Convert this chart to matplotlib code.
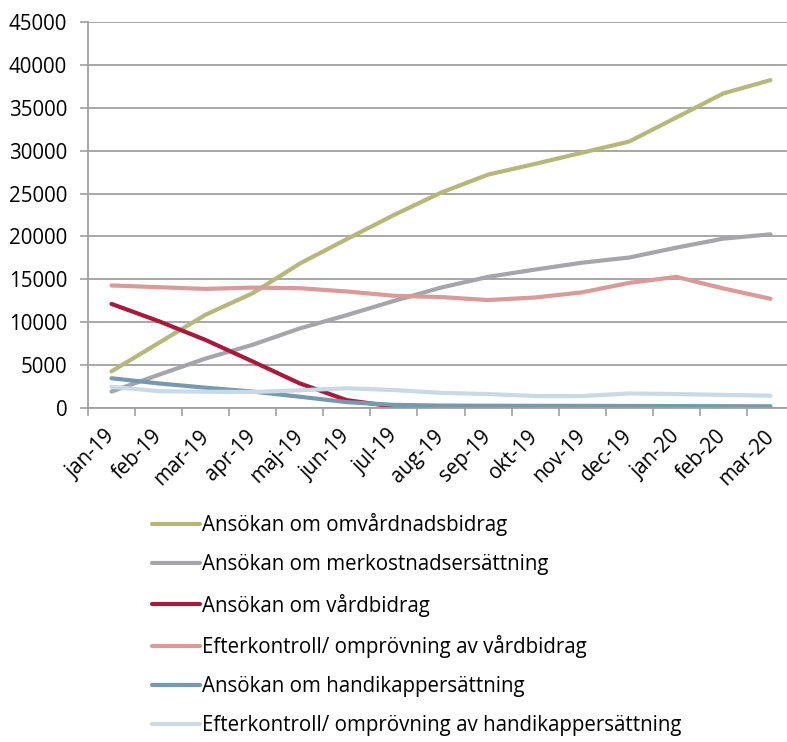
# ärenden per månad

import matplotlib.pyplot as plt

plt.rcParams['font.family'] = ['Open Sans', 'DejaVu Sans']

manader = ['jan-19', 'feb-19', 'mar-19', 'apr-19', 'maj-19', 'jun-19', 'jul-19',
           'aug-19', 'sep-19', 'okt-19', 'nov-19', 'dec-19', 'jan-20', 'feb-20', 'mar-20']

omvardnadsbidrag = [4300, 7600, 10900, 13400, 16850, 19700, 22500, 25100, 27200,
                    28450, 29750, 31050, 33850, 36650, 38200]
merkostnad = [1950, 3900, 5800, 7400, 9300, 10850, 12500, 14050, 15300, 16150,
              16950, 17550, 18700, 19750, 20250]
vardbidrag = [12150, 10150, 7950, 5450, 2900, 950, 200, 80, 60, 50, 50, 50, 50, 40, 40]
efterkontroll_vardbidrag = [14300, 14100, 13900, 14050, 13980, 13600, 13100, 12950,
                            12600, 12900, 13500, 14600, 15300, 13950, 12750]
handikapp = [3500, 2900, 2400, 1950, 1350, 720, 400, 320, 300, 290, 280, 270, 260, 250, 240]
efterkontroll_handikapp = [2500, 2000, 1930, 1900, 2100, 2330, 2130, 1800, 1660,
                           1430, 1430, 1730, 1660, 1560, 1470]

serier = [
    ('Ansökan om omvårdnadsbidrag', omvardnadsbidrag, '#B4B97A'),
    ('Ansökan om merkostnadsersättning', merkostnad, '#A5A5AA'),
    ('Ansökan om vårdbidrag', vardbidrag, '#A8193C'),
    ('Efterkontroll/ omprövning av vårdbidrag', efterkontroll_vardbidrag, '#D99A99'),
    ('Ansökan om handikappersättning', handikapp, '#7699B0'),
    ('Efterkontroll/ omprövning av handikappersättning', efterkontroll_handikapp, '#C9D9E5'),
]

fig = plt.figure(figsize=(7.87, 7.42), dpi=100)
ax = fig.add_axes([88 / 787, 0.4497, 706 / 787, 0.5211])

x = list(range(len(manader)))
for namn, varden, farg in serier:
    ax.plot(x, varden, color=farg, linewidth=3, solid_joinstyle='round',
            solid_capstyle='round', label=namn)

ax.set_xlim(-0.5, len(manader) - 0.5)
ax.set_ylim(0, 45000)
ax.set_yticks(range(0, 45001, 5000))
ax.yaxis.grid(True, color='#A0A0A0', linewidth=1.3)
ax.set_axisbelow(True)

ax.set_xticks(x)
ax.set_xticklabels(manader, rotation=45, ha='right', va='center',
                   rotation_mode='anchor', fontsize=14.8)
ax.set_xticks([i - 0.5 for i in range(len(manader) + 1)], minor=True)
ax.tick_params(axis='x', which='major', length=0, pad=18)
ax.tick_params(axis='x', which='minor', length=6, color='#A0A0A0', width=1.2)
ax.tick_params(axis='y', length=6, color='#A0A0A0', width=1.2, labelsize=14.8, pad=9)

for s in ['top', 'right']:
    ax.spines[s].set_visible(False)
for s in ['left', 'bottom']:
    ax.spines[s].set_color('#A0A0A0')
    ax.spines[s].set_linewidth(1.3)

fig.legend(loc='upper left', bbox_to_anchor=(152 / 787, 0.3086), frameon=False,
           fontsize=14.8, handlelength=2.35, handletextpad=0.1, labelspacing=0.89,
           borderpad=0, borderaxespad=0)

plt.savefig('out.png', dpi=100)
